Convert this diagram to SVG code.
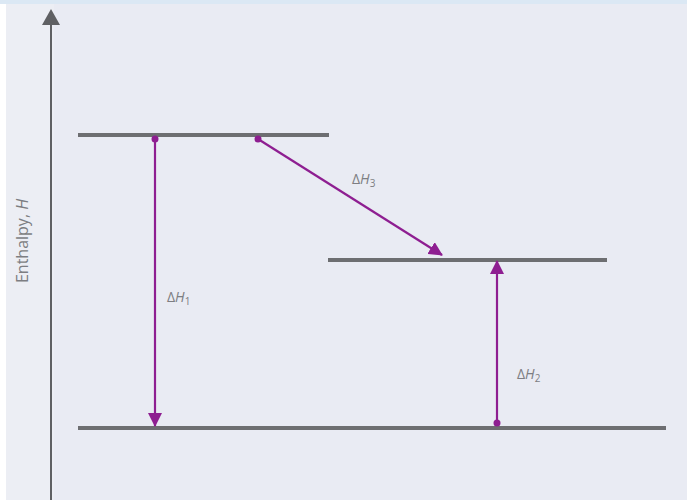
<svg xmlns="http://www.w3.org/2000/svg" width="687" height="500" viewBox="0 0 687 500">
  <defs>
    <style>
      .level { stroke: #6d6e71; stroke-width: 4; fill: none; }
      .axis { stroke: #5f6063; stroke-width: 2; fill: none; }
      .conn { stroke: #8e1e91; stroke-width: 2.2; fill: none; }
      .dot { fill: #8e1e91; }
      .lbl { font-family: "Open Sans", "Liberation Sans", sans-serif; font-size: 14px; fill: #7d7e82; }
      .ax { font-family: "Open Sans", "Liberation Sans", sans-serif; font-size: 16px; fill: #7d7e82; }
    </style>
    <marker id="ah" viewBox="0 0 14 14" refX="13" refY="7" markerWidth="14" markerHeight="14" markerUnits="userSpaceOnUse" orient="auto">
      <path d="M0,0 L14,7 L0,14 Z" fill="#8e1e91"/>
    </marker>
  </defs>
  <rect width="687" height="500" fill="#e9ebf3"/>
  <rect x="0" y="0" width="6" height="500" fill="#ffffff"/>
  <rect x="6" y="4" width="48" height="496" fill="#eceef4"/>
  <rect x="0" y="0" width="687" height="4" fill="#dbe8f4"/>

  <g id="axis">
    <line class="axis" x1="51" y1="500" x2="51" y2="22"/>
    <polygon points="51,9 42,25 60,25" fill="#5f6063"/>
    <text class="ax" transform="translate(28,241) rotate(-90)" text-anchor="middle">Enthalpy, <tspan font-style="italic">H</tspan></text>
  </g>

  <g id="level-top">
    <line class="level" x1="78" y1="135" x2="329" y2="135"/>
  </g>
  <g id="level-mid">
    <line class="level" x1="328" y1="260" x2="607" y2="260"/>
  </g>
  <g id="level-bottom">
    <line class="level" x1="78" y1="428" x2="666" y2="428"/>
  </g>

  <g id="connectors">
    <circle class="dot" cx="155" cy="139" r="3.5"/>
    <line class="conn" x1="155" y1="139" x2="155" y2="426" marker-end="url(#ah)"/>
    <circle class="dot" cx="258" cy="139" r="3.5"/>
    <line class="conn" x1="258" y1="139" x2="442" y2="255" marker-end="url(#ah)"/>
    <circle class="dot" cx="497" cy="423" r="3.5"/>
    <line class="conn" x1="497" y1="423" x2="497" y2="261" marker-end="url(#ah)"/>
  </g>

  <g id="labels">
    <text class="lbl" x="167" y="302">Δ<tspan font-style="italic">H</tspan><tspan font-size="10" dy="3">1</tspan></text>
    <text class="lbl" x="352" y="184">Δ<tspan font-style="italic">H</tspan><tspan font-size="10" dy="3">3</tspan></text>
    <text class="lbl" x="517" y="379">Δ<tspan font-style="italic">H</tspan><tspan font-size="10" dy="3">2</tspan></text>
  </g>
</svg>
